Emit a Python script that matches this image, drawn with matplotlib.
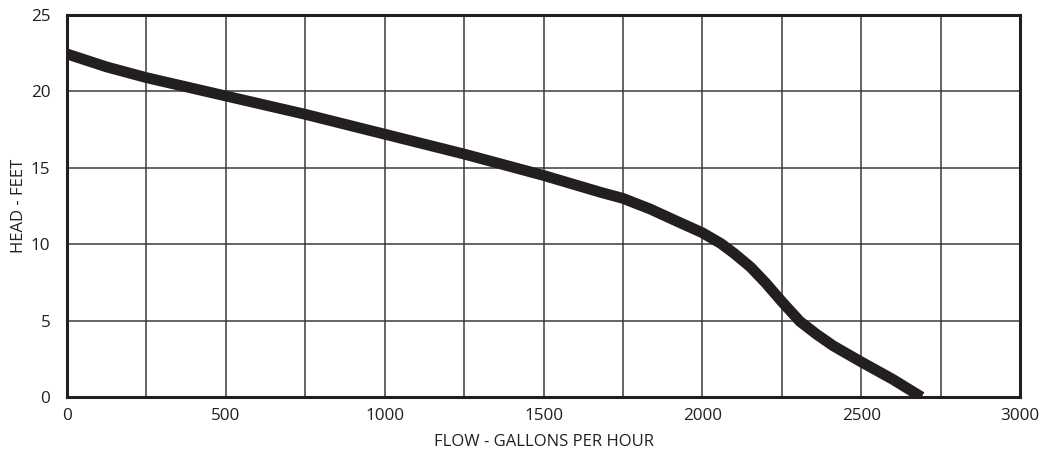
import matplotlib
matplotlib.use("Agg")
import matplotlib.pyplot as plt

flow = [0, 125, 250, 375, 500, 750, 1000, 1250, 1500, 1679, 1750, 1836, 1920,
        2000, 2058, 2100, 2152, 2200, 2250, 2307, 2360, 2412, 2500, 2600, 2690]
head = [22.45, 21.6, 20.9, 20.3, 19.7, 18.5, 17.2, 15.9, 14.5, 13.4, 13.0, 12.3,
        11.5, 10.75, 10.05, 9.4, 8.5, 7.45, 6.25, 4.95, 4.1, 3.35, 2.3, 1.15, 0.0]
x_ticks = [0, 500, 1000, 1500, 2000, 2500, 3000]
y_ticks = [0, 5, 10, 15, 20, 25]
grid_x = list(range(0, 3001, 250))

plt.rcParams['font.family'] = ['Open Sans', 'DejaVu Sans']
dark = '#231f20'

fig = plt.figure(figsize=(10.4, 4.49), dpi=100)
ax = fig.add_axes([67/1040, 52/449, 953/1040, 382/449])
ax.set_xlim(0, 3000)
ax.set_ylim(0, 25)
ax.set_xticks(grid_x)
ax.set_xticklabels([str(v) if v in x_ticks else '' for v in grid_x])
ax.set_yticks(y_ticks)
ax.set_yticklabels([str(v) for v in y_ticks])
ax.grid(True, color='#3a3a3a', linewidth=1.1)
ax.set_axisbelow(True)
ax.tick_params(length=0, labelsize=12.3, colors=dark)
ax.tick_params(axis='y', pad=12)
ax.tick_params(axis='x', pad=8)
for s in ax.spines.values():
    s.set_linewidth(2.2)
    s.set_color(dark)

ax.plot(flow, head, color=dark, linewidth=7.8, solid_capstyle='butt',
        solid_joinstyle='round', clip_on=True)

ax.set_xlabel('FLOW - GALLONS PER HOUR', fontsize=12, color=dark, labelpad=7)
ax.set_ylabel('HEAD - FEET', fontsize=12, color=dark, labelpad=3)

fig.savefig('out.png', dpi=100)
